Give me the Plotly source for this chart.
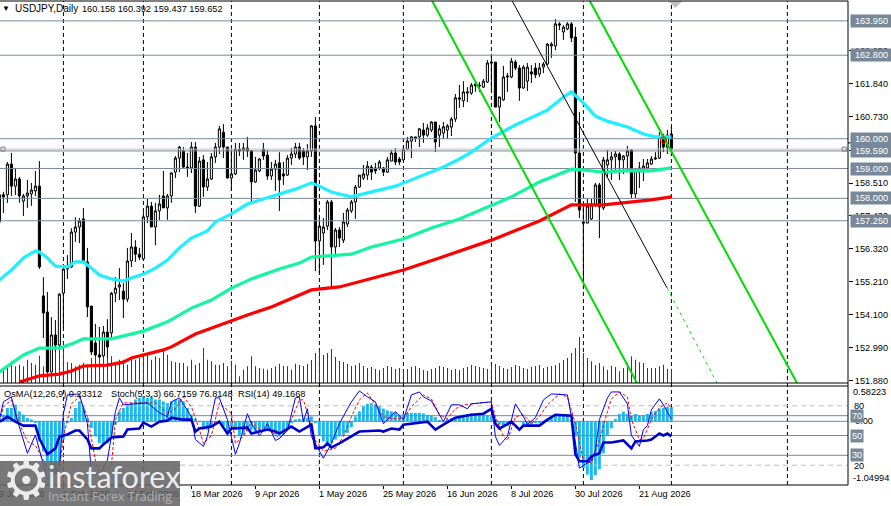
import plotly.graph_objects as go

# USDJPY daily candles
open_ = [158.12,158.12,158.12,159.15,158.41,158.65,157.91,158.08,158.15,158.25,
         158.41,154.73,154.19,152.18,153.42,153.08,154.82,155.63,155.70,156.87,
         157.04,157.31,155.87,154.39,153.15,152.75,152.72,153.52,153.49,154.82,
         155.03,154.89,154.62,155.90,156.37,156.13,155.97,157.38,157.74,157.04,
         157.58,158.08,157.68,158.08,158.88,159.35,159.59,159.05,159.02,159.72,
         157.74,159.29,158.38,158.65,159.39,159.72,160.22,159.72,158.68,158.82,
         159.65,159.69,159.69,159.59,158.55,158.92,159.65,159.45,158.75,158.98,
         159.19,158.82,158.78,159.35,159.49,159.72,159.59,159.39,159.59,160.43,
         156.57,156.84,157.07,157.88,156.37,156.94,156.60,157.14,157.58,157.88,
         158.38,158.68,158.78,159.05,159.02,159.02,159.02,158.88,159.25,159.52,
         159.32,159.29,159.65,159.92,160.06,160.06,160.29,160.12,160.29,160.56,
         160.12,160.19,160.29,160.39,160.66,161.37,161.27,161.53,161.53,161.77,
         161.80,161.73,161.90,162.57,162.57,161.06,161.30,162.07,162.07,162.57,
         162.37,161.70,161.93,162.24,162.37,162.17,162.40,162.50,163.11,163.11,
         163.85,163.58,163.68,163.85,163.41,159.52,157.21,157.17,157.31,157.78,
         158.45,157.68,159.12,159.29,159.39,159.49,159.29,159.42,159.62,158.15,
         158.88,158.98,159.02,159.15,159.32,159.35,160.02,159.72,160.158]
high = [158.29,158.22,159.22,159.52,159.02,158.72,158.15,158.62,158.52,158.92,
        159.25,155.36,154.86,154.02,153.92,154.82,155.66,156.10,157.00,157.37,
        157.34,157.68,156.34,154.39,153.79,153.69,153.72,153.95,154.86,155.36,
        155.66,155.16,156.34,156.84,156.60,156.34,157.54,157.98,157.88,157.85,
        158.12,158.92,158.15,158.88,159.42,159.76,159.72,159.52,159.89,159.89,
        159.39,159.45,159.22,159.52,159.86,160.43,160.49,159.72,159.65,159.86,
        159.86,159.86,160.06,159.62,159.39,159.35,159.86,159.62,159.22,159.29,
        159.55,159.22,159.45,159.69,159.86,159.86,159.69,159.82,160.46,160.73,
        157.37,157.34,157.95,157.95,157.01,157.04,157.51,157.68,157.95,158.45,
        158.78,159.12,159.25,159.12,159.19,159.29,159.05,159.39,159.62,159.69,
        159.39,159.72,160.06,160.09,160.06,160.36,160.53,160.49,160.59,160.56,
        160.46,160.56,160.49,160.73,161.50,161.80,161.93,161.73,161.87,161.90,
        161.90,162.00,162.64,162.81,162.57,161.40,162.44,162.20,162.71,162.64,
        162.47,162.47,162.54,162.47,162.54,162.54,162.57,163.21,163.24,164.01,
        163.91,163.81,163.91,163.91,163.74,160.90,157.78,158.01,157.98,158.52,
        158.52,159.39,159.62,159.55,159.59,159.55,159.45,159.76,159.65,158.98,
        159.22,159.32,159.32,159.42,159.55,160.22,160.16,160.29,160.392]
low = [156.84,157.51,157.85,158.08,158.11,157.85,157.41,157.68,157.75,158.08,
       155.63,153.32,152.18,152.18,152.82,153.02,153.65,155.30,155.66,156.54,
       156.50,155.83,154.02,152.75,152.72,152.68,152.65,152.68,153.25,154.52,
       154.59,153.99,154.52,155.70,155.87,155.93,155.93,157.17,157.04,156.43,
       157.28,157.68,157.28,157.85,158.68,158.88,159.02,158.72,158.85,157.51,
       157.71,158.05,158.25,158.62,159.19,159.49,159.35,158.68,158.28,158.78,
       159.42,159.29,159.39,157.88,158.52,158.88,159.29,158.62,158.62,158.25,
       157.58,158.45,158.75,159.12,159.35,159.29,159.12,158.95,159.39,155.56,
       155.50,155.77,156.94,155.03,156.03,156.37,156.50,157.04,157.51,157.31,
       158.35,158.62,158.62,158.62,158.82,158.95,158.75,158.85,159.25,159.12,
       159.12,159.25,159.62,159.35,159.89,159.72,159.86,160.06,160.22,159.55,
       159.72,159.99,159.99,160.09,160.56,161.03,161.06,161.23,161.47,161.57,
       161.57,161.70,161.87,161.63,161.06,160.56,161.27,161.57,162.03,162.30,
       161.27,161.67,161.60,161.87,162.03,162.07,162.20,162.47,162.71,162.97,
       163.64,163.31,163.64,163.24,157.88,157.34,155.19,157.17,157.28,157.71,
       156.67,157.61,158.68,158.62,158.95,158.62,158.82,158.95,158.01,158.01,
       158.35,158.58,158.88,159.12,159.29,159.32,159.55,159.49,159.437]
close = [157.21,158.05,159.15,158.41,158.65,158.08,158.08,158.18,158.28,158.41,
         155.70,154.16,152.18,153.42,153.08,154.79,155.63,155.70,156.87,157.04,
         157.24,155.87,154.36,152.85,152.75,152.68,153.52,153.02,154.82,154.99,
         155.10,154.62,155.90,156.37,156.13,156.03,157.38,157.74,157.04,157.58,
         157.81,157.68,158.08,158.85,159.35,159.72,159.05,159.02,159.72,157.74,
         159.25,158.38,158.65,159.39,159.72,160.33,159.72,158.68,158.82,159.65,
         159.59,159.62,159.59,158.55,158.95,159.32,159.42,158.75,158.98,159.15,
         158.62,158.75,159.35,159.49,159.72,159.35,159.39,159.59,160.43,156.57,
         157.07,157.04,157.88,156.37,156.94,156.67,157.21,157.61,157.88,158.38,
         158.78,158.82,159.08,158.88,158.92,159.22,158.88,159.29,159.52,159.22,
         159.22,159.65,159.92,160.06,160.02,160.33,160.12,160.36,160.56,159.89,
         160.33,160.40,160.43,160.66,161.37,161.33,161.57,161.57,161.80,161.83,
         161.77,161.93,162.54,162.54,161.06,161.40,162.07,162.10,162.60,162.37,
         161.70,162.40,162.40,162.17,162.14,162.37,162.50,163.17,163.17,163.85,
         163.81,163.74,163.85,163.38,159.52,157.61,157.17,157.74,157.78,158.45,
         157.71,159.29,159.29,159.39,159.49,159.29,159.42,159.59,158.15,158.95,
         159.02,159.08,159.19,159.32,159.35,160.06,159.72,160.12,159.652]
volume = [170,150,173,217,167,183,167,233,200,183,
          273,167,333,300,300,383,383,207,200,167,
          183,200,183,250,300,300,250,267,267,200,
          233,233,183,250,233,250,283,300,233,267,
          250,333,283,217,207,200,200,167,233,183,
          200,350,233,217,183,183,200,167,223,183,
          67,133,167,267,167,150,143,133,150,167,
          193,173,167,133,193,180,170,190,230,300,
          330,280,300,340,260,220,210,190,170,180,
          200,170,150,160,140,130,150,170,160,140,
          150,130,140,160,170,150,130,120,140,150,
          170,160,150,130,140,130,150,160,180,170,
          160,150,140,170,190,170,150,140,160,180,
          170,150,140,160,170,180,150,160,170,180,
          200,230,250,300,350,460,300,250,217,177,
          200,167,133,173,160,117,150,200,267,233,
          207,200,150,150,150,167,183,143,143]

# moving averages, readings at the listed bars
ma_fast_bar = [0,3,6,9,10,12,14,16,17,19,21,23,25,28,31,33,36,39,42,45,48,52,54,58,62,66,71,74,78,80,83,88,91,99,103,
               111,115,118,123,129,137,141,143,146,149,152,157,161,164,168]
ma_fast = [155.26,155.60,156.00,156.24,156.20,156.00,155.73,155.70,155.70,155.87,155.87,155.66,155.43,155.30,155.23,
           155.33,155.46,155.66,155.93,156.34,156.67,156.91,157.21,157.48,157.81,157.98,158.18,158.31,158.52,158.41,
           158.21,158.05,158.15,158.41,158.62,159.05,159.32,159.55,160.02,160.46,160.96,161.40,161.57,161.20,160.76,
           160.59,160.39,160.16,160.06,160.06]
ma_mid_bar = [0,3,6,10,15,18,21,28,32,36,42,48,53,58,63,70,75,78,88,93,101,108,115,123,128,135,143,146,151,156,163,168]
ma_mid = [152.18,152.45,152.75,152.98,152.98,153.12,153.29,153.29,153.42,153.55,153.86,154.32,154.59,154.99,155.30,
          155.63,155.83,156.03,156.13,156.37,156.64,157.01,157.31,157.78,158.05,158.55,158.98,158.95,158.88,158.92,
          158.92,159.02]
ma_slow_bar = [5,8,10,15,18,21,27,31,33,41,43,49,55,62,68,75,78,85,96,101,110,123,135,142,143,151,156,163,168]
ma_slow = [151.84,151.98,152.05,152.11,152.21,152.38,152.41,152.51,152.65,152.92,153.02,153.45,153.75,154.09,154.36,
           154.76,154.93,155.03,155.43,155.60,156.00,156.60,157.24,157.71,157.78,157.78,157.85,157.95,158.05]

# OsMA histogram
osma = [0.05,0.11,0.22,0.22,0.275,0.165,0.11,0.055,0.03,-0.02,
        -0.33,-0.495,-0.66,-0.80,-0.88,-0.74,-0.30,-0.03,0.055,0.22,
        0.33,0.22,0.055,-0.11,-0.25,-0.36,-0.385,-0.36,-0.22,-0.055,
        0.165,0.22,0.275,0.30,0.36,0.385,0.41,0.385,0.41,0.36,
        0.36,0.33,0.30,0.33,0.36,0.36,0.33,0.22,0.11,0.04,
        -0.01,-0.14,-0.14,-0.08,-0.055,-0.03,-0.08,-0.19,-0.08,-0.14,
        -0.25,-0.22,-0.165,-0.14,-0.165,-0.165,-0.14,-0.14,-0.165,-0.22,
        -0.25,-0.22,-0.14,-0.03,0.03,0.04,0.05,0.06,0.08,-0.03,
        -0.22,-0.33,-0.385,-0.36,-0.30,-0.25,-0.22,-0.19,-0.10,0.08,
        0.165,0.25,0.29,0.30,0.275,0.25,0.21,0.18,0.165,0.15,
        0.11,0.11,0.14,0.14,0.14,0.14,0.13,0.11,0.09,0.07,
        0.02,0.0,0.04,0.055,0.065,0.08,0.11,0.12,0.13,0.12,
        0.12,0.11,0.10,0.09,0.03,-0.055,-0.08,-0.08,-0.03,-0.01,
        -0.01,-0.055,-0.08,-0.055,-0.03,-0.03,-0.01,0.03,0.08,0.11,
        0.11,0.11,0.11,0.03,-0.25,-0.605,-0.77,-0.88,-0.97,-0.885,
        -0.79,-0.53,-0.24,-0.115,0.04,0.12,0.16,0.12,0.09,0.12,
        0.10,0.10,0.12,0.15,0.17,0.21,0.225,0.24,0.23312]

stoch_bar = [0,1,3,4,7,9,12,15,16,17,20,22,23,25,27,29,30,31,37,40,42,43,45,48,49,51,52,54,55,57,59,60,62,63,65,66,67,
             69,70,72,74,75,76,77,78,81,83,85,88,90,92,94,96,99,101,103,105,106,108,111,113,115,117,118,123,124,125,
             127,129,131,132,134,136,138,142,143,145,148,149,150,152,153,155,157,158,160,161,162,163,165,166,168]
stoch = [65.7,84,89,72,32,50.5,5.7,17,72,91,92,62,12,10,25,74,88,81,83,73,69,84,88,69,46,39,49,88,88,66,31,42,72,62,50,
         55,62,45,47,55,88,89,64,77,49,27,42,62,84,95,89,84,62,74,66,91,94,89,85,64,81,81,77,82,84,49,40,
         49,82,69,61,68,86,92,91,69,17,25,35,66,88,94,94,82,50,39,56,60,76,87,81,66.7]
signal_bar = [0,1,3,5,7,9,11,13,15,16,18,20,22,24,25,28,29,31,36,39,42,44,46,48,50,51,53,55,58,59,61,63,65,67,68,70,72,
              74,75,76,77,79,81,84,86,88,90,92,94,96,98,101,103,106,108,110,112,114,116,119,123,124,126,127,129,131,
              133,135,137,140,142,144,146,148,150,152,153,155,157,158,160,161,163,165,167,168]
signal = [64,79,86,62,44,40,25,10,15,49,82,89,69,25,12,19,66,83,83,83,72,77,89,79,56,42,50,83,72,42,49,64,56,56,54,47,56,
          76,86,86,72,45,34,37,49,69,86,93,81,69,67,67,79,91,87,71,67,77,81,82,84,69,49,45,69,71,
          62,69,81,92,89,62,25,22,45,74,87,94,89,66,46,47,66,78,83,76.8]
rsi_bar = [0,1,2,4,6,9,10,12,14,15,17,19,20,22,23,25,26,28,31,32,35,36,38,40,42,43,46,48,49,50,53,55,57,58,62,63,65,67,
           69,70,73,75,78,79,81,82,83,85,90,95,96,98,100,101,107,109,111,114,118,121,123,124,125,128,130,131,135,137,
           139,143,144,145,147,148,150,151,153,156,158,159,162,163,165,166,167,168]
rsi = [64,66,69,64,60,60,47,31,37,49,51,55,55,46,37,37,41,48,49,56,57,63,59,64,65,68,66,66,54,57,59,64,52,57,58,52,54,56,
       54,52,59,54,61,37,38,42,38,42,54,55,54,57,56,61,64,56,61,68,71,72,77,62,57,64,56,60,60,66,
       71,70,31,24,24,29,32,43,43,45,37,44,45,46,52,50,52,49.17]

# drawn objects on the chart (bar number, price)
channel_a_bar = [108.2, 159.4]
channel_a_price = [164.62, 151.81]
channel_b_bar = [147.6, 199.4]
channel_b_price = [164.62, 151.81]
channel_mid_bar = [128.2, 166.9]
channel_mid_price = [164.62, 155.0]
channel_ext_bar = [166.9, 179.4]
channel_ext_price = [155.0, 151.81]

levels = [163.95, 162.80, 160.00, 159.59, 159.00, 158.00, 157.25]
level_labels = ["163.950", "162.800", "160.000", "159.590", "159.000", "158.000", "157.250"]
price_ticks = [151.88, 152.99, 154.10, 155.21, 156.32, 157.43, 158.51, 159.62, 160.73, 161.84, 162.95]
month_bars = [16, 36, 58, 80, 101, 123, 146, 168, 197]
date_bars = [0, 16, 32, 48, 64, 80, 96, 112, 128, 144, 160]
date_labels = ["9 Jan 2026", "2 Feb 2026", "24 Feb 2026", "18 Mar 2026", "9 Apr 2026", "1 May 2026",
               "25 May 2026", "16 Jun 2026", "8 Jul 2026", "30 Jul 2026", "21 Aug 2026"]
osc_levels = [70, 50, 30]
stoch_levels = [80, 20]

FONT = "Liberation Sans"
SLATE = "#778899"
X_RANGE = [0.15, 212.15]
P_RANGE = [151.81, 164.617]
bars = list(range(len(close)))


def xp(bar):
    # bar number to paper x, so labels may hang past the axis ends
    return (bar - X_RANGE[0]) / (X_RANGE[1] - X_RANGE[0])


fig = go.Figure()

# volume
fig.add_trace(go.Bar(x=bars, y=volume, width=0.15, marker=dict(color="#006400", line_width=0),
                     xaxis="x", yaxis="y"))
# candles
fig.add_trace(go.Candlestick(x=bars, open=open_, high=high, low=low, close=close, whiskerwidth=0,
                             increasing=dict(line=dict(color="black", width=1), fillcolor="white"),
                             decreasing=dict(line=dict(color="black", width=1), fillcolor="black"),
                             xaxis="x", yaxis="y3"))
# levels and bid line
fig.add_trace(go.Scatter(x=X_RANGE, y=[close[-1], close[-1]], mode="lines", line=dict(color="#c0c0c0", width=1),
                         xaxis="x", yaxis="y3"))
for lev in levels:
    fig.add_trace(go.Scatter(x=X_RANGE, y=[lev, lev], mode="lines", line=dict(color=SLATE, width=1),
                             xaxis="x", yaxis="y3"))
# moving averages
fig.add_trace(go.Scatter(x=ma_fast_bar, y=ma_fast, mode="lines", line=dict(color="#1FEFFF", width=3.2),
                         xaxis="x", yaxis="y3"))
fig.add_trace(go.Scatter(x=ma_mid_bar, y=ma_mid, mode="lines", line=dict(color="#14F5A0", width=3.2),
                         xaxis="x", yaxis="y3"))
fig.add_trace(go.Scatter(x=ma_slow_bar, y=ma_slow, mode="lines", line=dict(color="#FF0000", width=3.2),
                         xaxis="x", yaxis="y3"))
# channel
for bx, by in [(channel_a_bar, channel_a_price), (channel_b_bar, channel_b_price)]:
    fig.add_trace(go.Scatter(x=bx, y=by, mode="lines", line=dict(color="#00DD00", width=2),
                             xaxis="x", yaxis="y3"))
fig.add_trace(go.Scatter(x=channel_mid_bar, y=channel_mid_price, mode="lines", line=dict(color="black", width=1),
                         xaxis="x", yaxis="y3"))
fig.add_trace(go.Scatter(x=channel_ext_bar, y=channel_ext_price, mode="lines",
                         line=dict(color="#00DD00", width=1, dash="3px,4px"), xaxis="x", yaxis="y3"))
# small chart marks
fig.add_trace(go.Scatter(x=[0.9, 211.2], y=[close[-1], close[-1]], mode="markers",
                         marker=dict(symbol="square-open", size=4, color="#808080"), xaxis="x", yaxis="y3"))
fig.add_trace(go.Scatter(x=[169], y=[164.62], mode="markers",
                         marker=dict(symbol="diamond", size=11, color="#c0c0c0"), xaxis="x", yaxis="y3"))
fig.add_trace(go.Scatter(x=[166], y=[159.96], mode="markers",
                         marker=dict(symbol="circle-open", size=6, color="red"), xaxis="x", yaxis="y3"))

# oscillator panel
fig.add_trace(go.Bar(x=bars, y=osma, width=0.72, marker=dict(color="#1CB8F0", line_width=0),
                     xaxis="x", yaxis="y2"))
for lev in stoch_levels:
    fig.add_trace(go.Scatter(x=X_RANGE, y=[lev, lev], mode="lines",
                             line=dict(color="#c0c0c0", width=1, dash="5px,4px"), xaxis="x", yaxis="y4"))
for lev in osc_levels:
    fig.add_trace(go.Scatter(x=X_RANGE, y=[lev, lev], mode="lines", line=dict(color=SLATE, width=1),
                             xaxis="x", yaxis="y4"))
fig.add_trace(go.Scatter(x=X_RANGE, y=[0, 0], mode="lines", line=dict(color=SLATE, width=1),
                         xaxis="x", yaxis="y2"))
fig.add_trace(go.Scatter(x=signal_bar, y=signal, mode="lines", line=dict(color="red", width=1, dash="3px,2px"),
                         xaxis="x", yaxis="y4"))
fig.add_trace(go.Scatter(x=stoch_bar, y=stoch, mode="lines", line=dict(color="#0000FF", width=1),
                         xaxis="x", yaxis="y4"))
fig.add_trace(go.Scatter(x=rsi_bar, y=rsi, mode="lines", line=dict(color="#0000CD", width=2.6),
                         xaxis="x", yaxis="y4"))

# panel frames and month separators
main_bottom = (485 - 383) / 484
sub_top = (485 - 386) / 484
shapes = []
for b in month_bars:
    shapes.append(dict(type="line", xref="x", yref="paper", x0=b, x1=b, y0=0, y1=1, layer="below",
                       line=dict(color="black", width=1, dash="4px,3px")))
for yy in [main_bottom, sub_top, 0, 1]:
    shapes.append(dict(type="line", xref="paper", yref="paper", x0=0, x1=1, y0=yy, y1=yy,
                       line=dict(color="black", width=1)))
shapes.append(dict(type="line", xref="paper", yref="paper", x0=1, x1=1, y0=0, y1=1, line=dict(color="black", width=1)))
shapes.append(dict(type="line", xref="paper", yref="y3", x0=1, x1=1.051, y0=159.86, y1=159.86,
                   line=dict(color="black", width=1)))
# watermark plate
shapes.append(dict(type="rect", xref="paper", yref="paper", x0=0, x1=180 / 848, y0=(485 - 506) / 484, y1=(485 - 461) / 484,
                   fillcolor="rgba(105,105,105,0.9)", line_width=0))

ann = []


def text(x, y, s, size=9.2, color="black", xref="paper", yref="paper", family=FONT):
    ann.append(dict(x=x, y=y, text=s, xref=xref, yref=yref, xanchor="left", yanchor="middle", showarrow=False,
                    align="left", borderpad=0, font=dict(family=family, size=size, color=color)))


# header lines
text(1 / 848, (485 - 9) / 484, "▼", size=8)
text(14 / 848, (485 - 9) / 484, "USDJPY,Daily", size=10)
text(81 / 848, (485 - 9) / 484, "160.158 160.392 159.437 159.652")
text(3 / 848, (485 - 394) / 484, "OsMA(12,26,9) 0.23312")
text(110 / 848, (485 - 394) / 484, "Stoch(5,3,3) 66.7159 76.8148")
text(237 / 848, (485 - 394) / 484, "RSI(14) 49.1668")

# dates
for b, lab in zip(date_bars, date_labels):
    text(xp(b - 0.4), (485 - 494) / 484, lab, size=9.2, color="rgba(0,0,0,0.35)" if b < 48 else "black")

# right side oscillator labels
text(852 / 848, (485 - 392) / 484, "0.58223")
text(853 / 848, (485 - 406) / 484, "80")
text(853 / 848, (485 - 465.5) / 484, "20")
text(854 / 848, (485 - 421) / 484, "0.00")
text(852 / 848, (485 - 478) / 484, "-1.04994")

# grey level tags
for lev, lab in zip(levels, level_labels):
    ann.append(dict(x=850 / 848, y=lev, xref="paper", yref="y3", text=lab, xanchor="left", yanchor="middle", showarrow=False,
                    width=41, height=12, align="center", bgcolor=SLATE, borderpad=0,
                    font=dict(family=FONT, size=9.2, color="white")))
for lev in osc_levels:
    ann.append(dict(x=850 / 848, y=lev, xref="paper", yref="y4", text=str(lev), xanchor="left", yanchor="middle",
                    showarrow=False, width=12, height=12, align="center", bgcolor=SLATE, borderpad=0,
                    font=dict(family=FONT, size=9.2, color="white")))

# watermark text
text(0.5 / 848, (485 - 480) / 484, "⚙", size=54, color="#ececec", family="DejaVu Sans")
text(47 / 848, (485 - 476) / 484, "instaforex", size=30.5, color="#ececec", family="Lato")
text(47 / 848, (485 - 497) / 484, "Instant Forex Trading", size=12.5, color="#b0b0b0", family="Open Sans")

fig.update_layout(
    width=891, height=506,
    margin=dict(l=0, r=43, t=1, b=21),
    paper_bgcolor="white", plot_bgcolor="white",
    showlegend=False, boxgap=0.25, barmode="overlay",
    font=dict(family=FONT, size=9.2, color="black"),
    shapes=shapes, annotations=ann,
    xaxis=dict(range=X_RANGE, domain=[0, 1], anchor="y2", showgrid=False, zeroline=False, showline=False,
               rangeslider=dict(visible=False), tickmode="array", tickvals=date_bars,
               ticktext=[""] * len(date_bars), ticks="outside", ticklen=3, tickcolor="black", tickwidth=1),
    yaxis=dict(domain=[main_bottom, 1], range=[0, 3820], visible=False),
    yaxis2=dict(domain=[0, sub_top], range=[-1.04994, 0.58223], visible=False, anchor="x"),
    yaxis3=dict(overlaying="y", side="right", range=P_RANGE, anchor="x", showgrid=False, zeroline=False,
                tickmode="array", tickvals=price_ticks, ticktext=["%.3f" % t for t in price_ticks],
                ticks="outside", ticklen=4, tickcolor="black", tickfont=dict(family=FONT, size=9.2)),
    yaxis4=dict(overlaying="y2", side="right", range=[0, 100], visible=False, anchor="x"),
)

# page margin off so the figure sits at the window corner
fig.write_html("out.html", config={"displayModeBar": False},
               post_script="document.body.style.margin='0';")
